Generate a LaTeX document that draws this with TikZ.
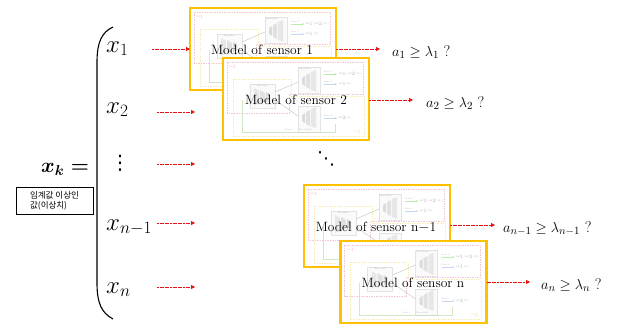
\documentclass[tikz,border=0pt]{standalone}
\usepackage{amsmath,amssymb}
\usepackage{fontspec}
\newfontfamily\krfont{Noto Sans CJK KR}
\newfontfamily\dvfont{DejaVu Sans}
\usetikzlibrary{arrows.meta}
\definecolor{boxorange}{HTML}{FFC000}
\definecolor{arrred}{HTML}{E81010}
\definecolor{pinkd}{HTML}{E8A0B4}
\definecolor{yeld}{HTML}{EFE08A}
\definecolor{greenl}{HTML}{B4D89A}
\definecolor{bluel}{HTML}{9EBEE8}
\tikzset{
  modelbox/.style={draw=boxorange, line width=2.2pt, fill=white, minimum width=146pt, minimum height=82pt, inner sep=0pt, outer sep=0pt},
  modellabel/.style={font=\fontsize{13.5}{15}\selectfont, inner sep=0pt},
  xlabel/.style={font=\fontsize{25}{28}\selectfont, inner sep=0pt, anchor=base west},
  cond/.style={font=\fontsize{15.5}{18}\selectfont, inner sep=0pt, anchor=base west},
  redarrow/.style={draw=arrred, line width=0.8pt, dash pattern=on 2pt off 0.6pt, -{Triangle[length=4pt,width=4pt]}},
  tinytxt/.style={font=\fontsize{2.2}{2.5}\selectfont, inner sep=0pt},
  aeimg/.pic={
    \begin{scope}[opacity=0.6]
    \draw[pinkd, line width=0.5pt, dash pattern=on 1.5pt off 1pt] (4,4) -- (140,4) -- (140,36) -- (66,36) -- (66,55) -- (4,55) -- cycle;
    \node[tinytxt, text=pinkd!80!red] at (10,9) {AE$_1$};
    \draw[yeld, line width=0.5pt, dash pattern=on 1.5pt off 1pt] (10,21) -- (68,21) -- (68,38) -- (141,38) -- (141,78) -- (10,78) -- cycle;
    \draw[greenl, line width=0.6pt] (19,42) -- (19,74) -- (112,74) -- (112,66);
    % encoder
    \draw[gray!35, fill=gray!6, line width=0.3pt] (27,26) rectangle (52,50);
    \node[tinytxt, text=gray] at (39.5,28) {Encoder};
    \fill[gray!28] (31,30) -- (36,33) -- (36,45) -- (31,48) -- cycle;
    \fill[gray!36] (37,32) -- (42,35) -- (42,43) -- (37,46) -- cycle;
    \fill[gray!44] (43,34) -- (47,36) -- (47,42) -- (43,44) -- cycle;
    % decoder 1
    \draw[gray!35, fill=gray!6, line width=0.3pt] (75,9) rectangle (97,35);
    \node[tinytxt, text=gray] at (82,11) {Decoder1};
    \fill[gray!44] (79,20) -- (82,18) -- (82,28) -- (79,26) -- cycle;
    \fill[gray!36] (83,17) -- (87,15) -- (87,31) -- (83,29) -- cycle;
    \fill[gray!28] (88,14) -- (93,12) -- (93,34) -- (88,32) -- cycle;
    % decoder 2
    \draw[gray!35, fill=gray!6, line width=0.3pt] (75,48) rectangle (97,74);
    \fill[gray!44] (79,57) -- (82,55) -- (82,65) -- (79,63) -- cycle;
    \fill[gray!36] (83,54) -- (87,52) -- (87,68) -- (83,66) -- cycle;
    \fill[gray!28] (88,51) -- (93,49) -- (93,70) -- (88,68) -- cycle;
    % links
    \draw[gray!70, line width=0.5pt] (52,34) -- (75,24);
    \draw[gray!70, line width=0.5pt] (52,42) -- (75,58);
    % small output arrows
    \draw[greenl!80!green, line width=0.6pt, -{Stealth[length=2pt]}] (101,16) -- (114,16);
    \node[tinytxt, text=gray] at (105,14) {Pass 2};
    \node[tinytxt, text=gray, anchor=west] at (115,16) {AE$_1$(AE$_2$(W))};
    \draw[bluel, line width=0.6pt, -{Stealth[length=2pt]}] (101,26) -- (114,26);
    \node[tinytxt, text=gray] at (105,24) {Pass 1};
    \node[tinytxt, text=gray, anchor=west] at (115,26) {AE$_1$(W)};
    \draw[bluel, line width=0.6pt, -{Stealth[length=2pt]}] (101,60) -- (114,60);
    \end{scope}
  },
  aelower/.pic={
    \begin{scope}[opacity=0.6]
    \node[tinytxt, text=yeld!70!orange] at (134,74) {AE$_2$};
    \node[tinytxt, text=gray] at (66,71.5) {Pass 1};
    \node[tinytxt, text=gray] at (82,72) {Decoder2};
    \node[tinytxt, text=gray] at (105,58) {Pass 1};
    \node[tinytxt, text=gray, anchor=west] at (115,60) {AE$_2$(W)};
    \end{scope}
  }
}
\begin{document}
\begin{tikzpicture}[x=1pt, y=-1pt]
\useasboundingbox (0,0) rectangle (617,324);
\fill[white] (0,0) rectangle (617,324);

% left side
\node[font=\fontsize{21}{24}\selectfont\boldmath, inner sep=0pt, anchor=base west] (xk) at (41,172) {$x_k =$};
\node[draw=black, line width=0.5pt, font=\krfont\fontsize{8.5}{10}\selectfont, align=left, inner sep=2pt, minimum width=77pt, minimum height=27pt] (kr) at (54.5,200.5) {임계값 이상인\\값(이상치)};

% brace
\draw[line width=1.1pt] (113,27) .. controls (102,32) and (97,42) .. (97,62) -- (97,283) .. controls (97,304) and (102,313) .. (113,319);

% x labels
\node[xlabel] (x1) at (106,52) {$x_1$};
\node[xlabel] (x2) at (106,113) {$x_2$};
\node[font=\dvfont\fontsize{20}{22}\selectfont, inner sep=0pt] (vd) at (120,163) {⋮};
\node[xlabel] (xn1) at (106,230) {$x_{n-1}$};
\node[xlabel] (xn) at (106,293) {$x_n$};

% model boxes
\node[modelbox] (m1) at (263,49) {};
\pic at (m1.north west) {aeimg};
\node[modellabel] (l1) at (262,50) {Model of sensor 1};

\node[modelbox] (m2) at (296,99) {};
\pic at (m2.north west) {aeimg};
\pic at (m2.north west) {aelower};
\node[modellabel] (l2) at (296,100) {Model of sensor 2};

\node[font=\dvfont\fontsize{18}{20}\selectfont, inner sep=0pt] (dd) at (326,159) {⋱};

\node[modelbox] (m3) at (377,226) {};
\pic at (m3.north west) {aeimg};
\node[modellabel] (l3) at (376,227) {Model of sensor n$-$1};

\node[modelbox] (m4) at (413.5,282) {};
\pic at (m4.north west) {aeimg};
\pic at (m4.north west) {aelower};
\node[modellabel] (l4) at (413,283) {Model of sensor n};

% input arrow coordinates
\coordinate (s1) at (152,49);
\coordinate (s2) at (157,112);
\coordinate (e2) at (195,112);
\coordinate (s3) at (157,164);
\coordinate (e3) at (195,164);
\coordinate (s4) at (157,223);
\coordinate (e4) at (195,223);
\coordinate (s5) at (157,287);
\coordinate (e5) at (195,287);
\draw[redarrow] (s1) -- (m1.west);
\draw[redarrow] (s2) -- (e2);
\draw[redarrow] (s3) -- (e3);
\draw[redarrow] (s4) -- (e4);
\draw[redarrow] (s5) -- (e5);

% output arrows
\coordinate (o1) at (380,49);
\coordinate (o2) at (413,100);
\coordinate (o3) at (495,225);
\coordinate (o4) at (530,282);
\draw[redarrow] (m1.east) -- (o1);
\draw[redarrow] (m2.east |- o2) -- (o2);
\draw[redarrow] (m3.east |- o3) -- (o3);
\draw[redarrow] (m4.east |- o4) -- (o4);

% conditions
\node[cond] (c1) at (392,56) {$a_1 \geq \lambda_1$ ?};
\node[cond] (c2) at (426,107) {$a_2 \geq \lambda_2$ ?};
\node[cond] (c3) at (503,232) {$a_{n-1} \geq \lambda_{n-1}$ ?};
\node[cond] (c4) at (541,289) {$a_n \geq \lambda_n$ ?};
\end{tikzpicture}
\end{document}
